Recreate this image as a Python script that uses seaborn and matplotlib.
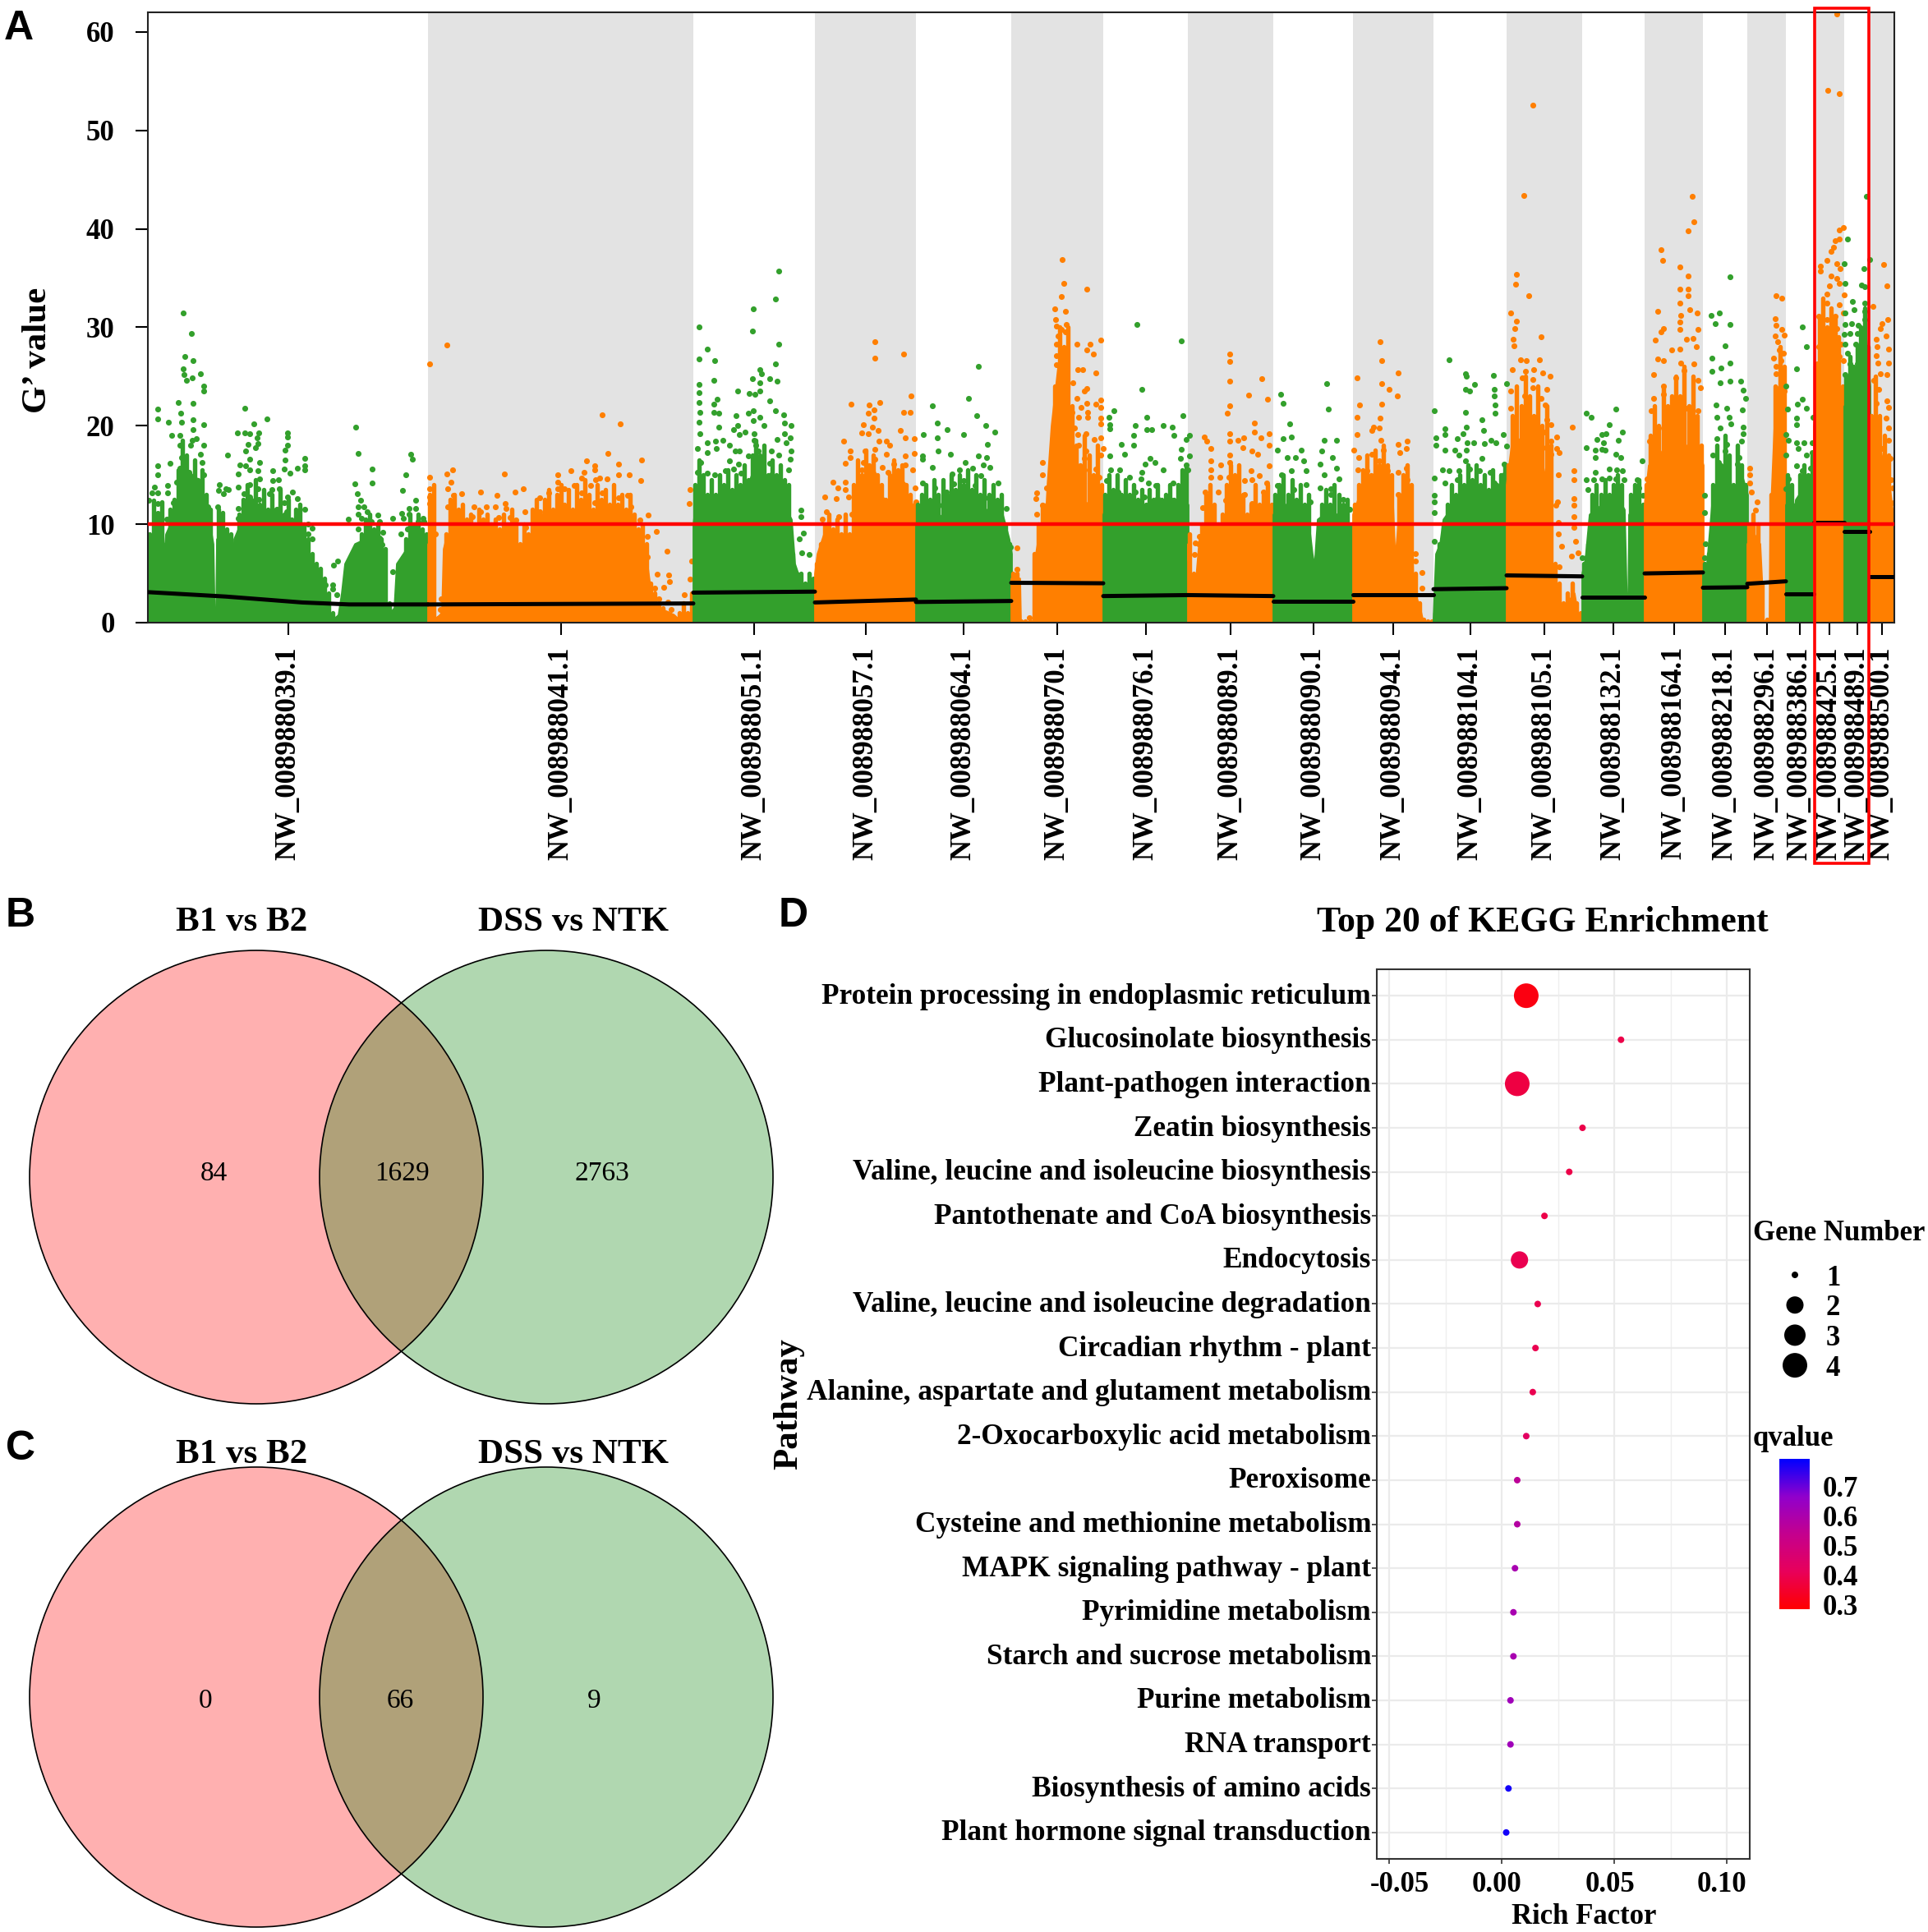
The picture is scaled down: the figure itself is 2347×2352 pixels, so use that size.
import numpy as np
import pandas as pd
import matplotlib
matplotlib.use("Agg")
import matplotlib.pyplot as plt
import seaborn as sns
from matplotlib.cm import ScalarMappable
from matplotlib.colors import LinearSegmentedColormap, Normalize
from matplotlib.patches import Ellipse, Rectangle
from matplotlib.transforms import ScaledTranslation

# ---- panel A data ----
scaffolds = ["NW_008988039.1", "NW_008988041.1", "NW_008988051.1", "NW_008988057.1", "NW_008988064.1",
             "NW_008988070.1", "NW_008988076.1", "NW_008988089.1", "NW_008988090.1", "NW_008988094.1",
             "NW_008988104.1", "NW_008988105.1", "NW_008988132.1", "NW_008988164.1", "NW_008988218.1",
             "NW_008988296.1", "NW_008988386.1", "NW_008988425.1", "NW_008988489.1", "NW_008988500.1"]
scaffold_len = [341, 323, 148, 123, 116, 112, 103, 104, 97, 98, 89, 92, 76, 71, 54, 47, 34, 37, 31, 30]
smooth_start = [3.1, 1.85, 3.05, 2.05, 2.1, 4.05, 2.7, 2.8, 2.2, 2.85, 3.4, 4.8, 2.55, 5.0, 3.55, 3.95, 2.9, 10.2, 9.3, 4.7]
smooth_end = [1.85, 1.95, 3.15, 2.35, 2.2, 4.0, 2.8, 2.7, 2.2, 2.85, 3.5, 4.7, 2.55, 5.1, 3.6, 4.2, 2.9, 10.2, 9.3, 4.7]
# first scaffold's smoothed line bends, so it gets its own points
smooth_039_x = [0, 95, 188, 245, 341]
smooth_039_y = [3.1, 2.65, 2.05, 1.85, 1.85]

# dense lower part of each scaffold: upper edge
body_x_039 = [0, 10, 19, 22, 30, 40, 55, 65, 75, 79, 80.5, 83, 84, 98, 100, 103, 105, 115, 140, 160, 172, 178, 188, 200, 205, 210, 222, 232, 236, 240, 252, 265, 280, 285, 289, 295, 300, 303, 315, 330, 341]
body_y_039 = [7, 9, 6, 9, 10.5, 12.5, 12.5, 12, 10, 8, 0.8, 0.8, 8.5, 8.8, 8, 0.8, 8.5, 10.5, 10.5, 10, 8.5, 5.5, 4.5, 2.8, 0.8, 0.3, 0, 0.8, 3, 6, 8, 8.5, 6.5, 5, 1.5, 1, 1.5, 6, 7.5, 7.5, 7]
body_x_041 = [341, 348, 349, 358, 360, 363, 375, 385, 410, 415, 420, 440, 458, 463, 467, 475, 500, 530, 560, 590, 605, 612, 618, 622, 640, 650, 660, 664]
body_y_041 = [8, 8, 0.3, 1, 7.5, 8.5, 8, 7, 7.5, 6.5, 7, 7.5, 6.8, 6, 6.5, 8.5, 8, 9, 8.5, 8, 7.5, 3, 2, 1.5, 0.8, 0, 0.5, 1]
body_x_051 = [664, 668, 672, 690, 700, 720, 735, 745, 755, 770, 783, 787, 795, 805, 812]
body_y_051 = [10, 13, 12, 11, 12, 11.5, 15, 15, 11, 12.5, 10.5, 6, 4, 4, 3.5]
body_x_057 = [812, 815, 825, 840, 850, 855, 860, 870, 885, 900, 910, 920, 930, 935]
body_y_057 = [5, 7, 9.5, 8, 8.5, 7, 11, 13, 14, 12, 11, 13.5, 10, 10]
body_x_064 = [935, 945, 960, 975, 1000, 1020, 1040, 1048, 1051]
body_y_064 = [10, 11, 10.5, 11.5, 11.5, 11.5, 11, 8.5, 7]
body_x_070 = [1051, 1061, 1062, 1078, 1079, 1085, 1092, 1095, 1100, 1108, 1115, 1120, 1130, 1145, 1155, 1163]
body_y_070 = [4.5, 4.5, 0.1, 0.1, 6, 9, 9, 14, 20, 26, 26, 16, 13, 12, 13, 12]
body_x_076 = [1163, 1170, 1190, 1210, 1235, 1255, 1266]
body_y_076 = [11, 12.5, 11, 10.5, 10.5, 11, 12]
body_x_089 = [1266, 1268, 1275, 1280, 1290, 1300, 1320, 1340, 1360, 1370]
body_y_089 = [8, 4, 3.5, 8.5, 11, 8, 12, 9, 11, 9]
body_x_090 = [1370, 1385, 1410, 1417, 1420, 1424, 1440, 1460, 1467]
body_y_090 = [11, 12, 12, 7, 5.5, 10.5, 11.5, 10, 8.5]
body_x_094 = [1467, 1475, 1490, 1505, 1515, 1518, 1522, 1537, 1540, 1548, 1552, 1565]
body_y_094 = [11, 13, 14, 15, 12, 6, 10, 12, 3.5, 1.5, 0.1, 0.1]
body_x_104 = [1565, 1568, 1573, 1577, 1590, 1605, 1625, 1645, 1654]
body_y_104 = [0.5, 7, 8, 10.5, 12, 13, 11.5, 12, 13]
body_x_105 = [1654, 1660, 1675, 1685, 1695, 1705, 1708, 1714, 1722, 1728, 1736, 1740, 1746]
body_y_105 = [14, 18, 19, 17, 17, 13, 5, 3, 1, 2, 3, 1, 0.5]
body_x_132 = [1746, 1750, 1755, 1770, 1790, 1797, 1800, 1802, 1803, 1815, 1822]
body_y_132 = [5, 6.5, 11, 12, 12.5, 11.5, 1, 1, 11, 12, 11]
body_x_164 = [1822, 1827, 1840, 1855, 1870, 1885, 1893]
body_y_164 = [12, 16, 17, 19, 18, 18, 16]
body_x_218 = [1893, 1898, 1905, 1915, 1925, 1930, 1940, 1947]
body_y_218 = [5, 6, 13, 15, 15, 12, 15, 13]
body_x_296 = [1947, 1955, 1962, 1965, 1966, 1974, 1975, 1980, 1985, 1992, 1994]
body_y_296 = [8, 9, 8, 3, 0.2, 0.2, 10, 20, 24, 22, 10]
body_x_386 = [1994, 1998, 2003, 2006, 2018, 2028]
body_y_386 = [12, 12, 10, 12.5, 14, 15]
body_x_425 = [2028, 2035, 2045, 2055, 2063, 2065]
body_y_425 = [20, 25, 27, 26, 20, 17]
body_x_489 = [2065, 2075, 2085, 2090, 2096]
body_y_489 = [22, 23, 26, 30, 24]
body_x_500 = [2096, 2103, 2110, 2118, 2124, 2126]
body_y_500 = [16, 20, 17, 15, 11, 7]

# top of the packed columns, one value per column across the scaffold
cloud_039 = [9, 12.4, 11, 12.3, 8, 11.5, 12.5, 15.5, 18.5, 17, 15, 16.5, 14.5, 15.5, 13, 11.5, 1, 11.5, 11.2, 9.5, 9, 1, 11, 12.5, 14, 12.5, 14.5, 12, 13.5, 11.5, 13, 11.5, 13.5, 11, 12.5, 10.5, 11.5, 12, 10, 8.5, 7, 6, 5.5, 4.5, 3, 1, 0.5, 1, 1, 2, 5, 7.5, 9, 10.5, 11, 9.5, 10, 8.5, 7.5, 2, 1, 2, 6, 8.5, 11, 10, 11, 9.5, 9]
cloud_041 = [13, 14, 0.5, 1, 9, 12.5, 13, 11.5, 12, 10.5, 11, 10, 11.5, 10.5, 11, 10, 10.5, 9.5, 11, 10, 11.5, 10, 8, 10, 9, 11.5, 12.5, 11, 12.5, 13.5, 11.5, 13, 14, 12, 13.5, 11.5, 14, 12.5, 14.5, 13, 11.5, 14, 12.5, 13.5, 12, 14, 12, 13, 11.5, 13, 11, 9.5, 10, 8, 4, 3, 2, 1.5, 1, 0.5, 0.3, 1, 2, 1, 3]
cloud_051 = [14, 16.5, 15, 13, 14.5, 13, 15, 14, 15.5, 13.5, 15, 14, 16, 14.5, 17, 18.5, 17, 18, 15, 16.5, 15, 16, 14.5, 14, 7, 5, 5, 4, 5, 4.5]
cloud_057 = [6, 8, 10, 11, 9.5, 10.5, 9, 11, 9, 14, 16.5, 15, 17.5, 16, 17, 15, 14, 12.5, 15, 16.5, 15.5, 16, 14, 13, 12]
cloud_064 = [12, 13, 14, 12.5, 14.5, 13, 14.5, 13, 15, 13.5, 15, 14, 15.5, 13.5, 15, 13, 14.5, 13, 14, 12.5, 13, 10, 8]
cloud_070 = [5, 5, 0.2, 0.2, 0.2, 7, 10, 12, 12, 15, 24, 30, 28, 30, 22, 18, 16, 19, 17, 15, 18, 14]
cloud_076 = [13, 15, 13.5, 15, 13, 14.5, 13, 14, 12.5, 13.5, 12, 13.5, 12.5, 14, 12.5, 13, 14, 12.5, 14, 15.5, 16]
cloud_089 = [9, 5, 4, 10, 13, 14, 12, 10, 11, 14, 16, 15, 16, 13, 11, 12, 14, 12, 13, 14, 12]
cloud_090 = [13, 14, 15, 13, 14.5, 12.5, 14, 12, 13, 6, 5, 12, 13.5, 12, 14, 13, 12, 12.5, 10]
cloud_094 = [12, 14, 15.5, 17, 15, 17.5, 16, 18, 16, 15, 7, 13, 15, 16, 14, 5, 2, 0.3, 0.2, 0.2]
cloud_104 = [1, 8, 10, 12, 14, 13, 15, 14, 16, 14.5, 16, 14, 15, 13.5, 15.5, 14, 15, 16]
cloud_105 = [16, 21, 24, 22, 25, 23, 21, 24, 20, 22, 18, 6, 4, 2, 3, 4, 2, 1]
cloud_132 = [6, 8, 13, 14, 13, 14.5, 13, 14, 15, 14, 1.5, 13, 14, 14.5, 12]
cloud_164 = [14, 19, 22, 20, 24, 22, 23, 25, 23, 26, 22, 25, 21, 18]
cloud_218 = [6, 7, 14, 18, 16, 19, 17, 14, 18, 16, 14]
cloud_296 = [10, 11, 10, 4, 0.3, 13, 24, 28, 26]
cloud_386 = [15, 14, 12, 15, 16, 15, 17]
cloud_425 = [26, 31, 33, 30, 32, 31, 29, 24]
cloud_489 = [25, 27, 26, 28, 30, 32, 28]
cloud_500 = [21, 25, 21, 19, 17, 10]

# sparse single SNPs above the dense part
dots_x_039 = [43, 53, 45, 55, 43, 64, 54, 44, 47, 68, 68, 12, 12, 37, 55, 40, 25, 41, 55, 68, 29, 39, 55, 54, 59, 39, 68, 52, 64, 41, 27, 12, 66, 12, 39, 50, 68, 35, 57, 8, 24, 5, 12, 24, 1, 12, 31, 41, 70, 73, 12, 10, 23, 85, 87, 86, 92, 95, 98, 87, 97, 118, 129, 145, 109, 118, 124, 135, 133, 170, 170, 122, 134, 170, 119, 131, 167, 124, 167, 191, 136, 112, 119, 124, 134, 152, 182, 191, 191, 166, 173, 110, 136, 152, 159, 124, 110, 134, 160, 151, 176, 117, 124, 135, 170, 182, 148, 166, 122, 110, 135, 157, 147, 169, 117, 191, 110, 137, 157, 195, 200, 195, 189, 200, 189, 193, 198, 204, 200, 207, 216, 225, 225, 230, 226, 231, 253, 256, 273, 252, 273, 255, 259, 256, 263, 267, 256, 244, 260, 280, 272, 282, 298, 256, 271, 282, 286, 285, 282, 287, 298, 320, 322, 314, 310, 326, 318, 326, 309, 318, 335, 311, 329, 336, 308, 316, 336, 329]
dots_y_039 = [31.5, 29.4, 27, 26.6, 25.8, 25.3, 24.9, 25.2, 24.6, 24, 23.5, 21.7, 20.7, 22.4, 22.3, 21.3, 20.4, 20.4, 20.6, 20.1, 19, 19, 19.6, 18.5, 18.7, 18, 18, 18, 17.1, 16.8, 16.2, 15.9, 16.3, 15, 15.7, 15.3, 15, 14.3, 14.6, 13.8, 13.9, 13.2, 13.2, 13.2, 12.4, 12.1, 12.2, 12.9, 12.7, 11.8, 11.1, 10.6, 10.5, 11.8, 14, 13.4, 13.1, 13.6, 13.5, 10.8, 17, 21.8, 20.2, 20.7, 19.3, 19.3, 19.2, 19.3, 18.8, 19.3, 18.9, 18.1, 18.2, 18, 17.4, 17.8, 17.5, 16.6, 16.5, 16.7, 16.3, 16, 15.9, 15.5, 15.4, 15.4, 15.7, 15.9, 15.5, 15.6, 15.2, 15.1, 14.6, 14.4, 14.5, 14, 13.8, 13.6, 13.6, 13.5, 13.3, 13.1, 12.8, 12.5, 12.8, 12.6, 13.1, 12.2, 12.1, 11.6, 11.8, 11.5, 11.3, 11.3, 11, 11.5, 10.6, 10.6, 10.6, 10, 9.6, 9, 8.5, 8.5, 6.8, 6.6, 5.9, 4.8, 4.3, 2.5, 3.8, 3.8, 3.4, 2.8, 5.8, 6.3, 19.9, 17.2, 15.6, 14.1, 14.2, 13.1, 12.4, 11.8, 11.8, 11.3, 11, 10.5, 10.6, 10.9, 10.3, 10.3, 10.6, 9.5, 9.3, 8.6, 9.2, 7.9, 7.4, 6.6, 5.2, 17.1, 16.6, 15, 13.4, 12.4, 11.6, 11.6, 11.1, 11, 10.6, 10.6, 10.3, 10.3, 9, 9.5, 8.5, 8.9]
dots_x_041 = [343, 364, 553, 575, 343, 364, 371, 434, 369, 560, 534, 544, 544, 573, 601, 515, 531, 499, 573, 586, 600, 550, 559, 499, 528, 545, 539, 519, 499, 507, 457, 447, 405, 343, 365, 372, 382, 425, 488, 477, 528, 553, 584, 573, 343, 343, 365, 372, 435, 499, 544, 559, 588, 397, 412, 423, 381, 405, 436, 459, 477, 488, 512, 528, 539, 575, 609, 395, 427, 441, 499, 530, 553, 584, 599, 369, 448, 619, 632, 608, 608, 620, 634, 617, 628, 635, 660, 659, 662, 660, 653, 633, 622, 637, 357, 350, 356, 385, 395, 420, 440, 460, 480, 500, 520, 540, 560, 580, 595]
dots_y_041 = [26.3, 28.2, 21.1, 20.2, 14.8, 15.1, 15.5, 15.1, 14.3, 17.2, 16.4, 15.9, 15.5, 16.1, 16.5, 15.4, 15.3, 15, 15, 15, 14.4, 14.7, 14.6, 14.3, 14.7, 14.5, 13.9, 13.9, 13.6, 13.6, 13.6, 13.3, 13.3, 13.6, 13.6, 12.9, 13.1, 12.9, 13.2, 12.7, 13.2, 13.2, 12.9, 12.7, 12.8, 12.1, 11.8, 12.1, 12.1, 12.1, 12.2, 11.8, 11.8, 11.8, 11.8, 11.8, 11.3, 11.3, 11.6, 11.3, 11.3, 11.1, 11.4, 11.4, 11.3, 11.3, 10.9, 10.8, 10.7, 10.7, 10.6, 10.6, 11, 10.7, 10.4, 10.5, 10.4, 9.3, 7.3, 8.8, 6.7, 4.9, 4.8, 3.5, 3.6, 4.2, 13.5, 12.1, 6.3, 4.4, 2.8, 2.1, 2.4, 1.3, 2.4, 9, 1.3, 9.5, 9.2, 9.6, 9.3, 9.7, 9.5, 9.8, 9.4, 9.7, 9.5, 9.6, 9.3]
dots_x_051 = [671, 681, 671, 690, 689, 768, 764, 737, 736, 768, 764, 745, 747, 736, 757, 766, 745, 718, 732, 739, 745, 671, 671, 671, 672, 757, 689, 693, 689, 695, 716, 731, 737, 745, 764, 774, 671, 695, 737, 750, 775, 783, 718, 713, 727, 672, 720, 738, 775, 782, 766, 738, 777, 681, 691, 700, 669, 692, 708, 740, 783, 759, 681, 715, 720, 743, 768, 731, 708, 673, 719, 782, 757, 703, 713, 780, 669, 681, 690, 722, 759, 795, 795, 798, 793, 796, 805]
dots_y_051 = [30, 27.8, 26.8, 26.6, 24.6, 35.7, 32.9, 31.9, 29.6, 28.3, 26.3, 25.7, 25.3, 24.8, 24.8, 24.5, 24.4, 23.5, 23.3, 23.2, 23.5, 24.2, 23.4, 22.4, 21.4, 22.5, 22.2, 22.7, 21.4, 21.3, 21, 21.3, 21.5, 20.9, 21.5, 21.1, 20.4, 19.9, 20.5, 20, 20.3, 20, 20, 19.6, 19.4, 19.2, 19.1, 19.2, 19.2, 18.8, 18.6, 18.5, 18.3, 18.3, 18.4, 18.5, 17.7, 17.7, 18, 18, 17.4, 17.4, 17.3, 17.4, 17.4, 17.4, 17, 16.9, 16.4, 16.3, 16.1, 16.6, 16.2, 15.4, 15.6, 15.5, 15.3, 15.2, 15, 15.2, 15, 11.4, 10.8, 9.1, 8.5, 7.1, 6.9]
dots_x_057 = [885, 885, 920, 929, 856, 878, 891, 884, 877, 920, 928, 884, 871, 882, 877, 869, 889, 916, 922, 933, 847, 890, 899, 903, 873, 885, 899, 855, 855, 849, 933, 922, 871, 885, 908, 931, 922, 894, 869, 883, 901, 834, 849, 840, 849, 934, 824, 838, 863, 853, 919, 912, 935, 826, 821, 841, 857]
dots_y_057 = [28.5, 26.9, 27.3, 23, 22.2, 22.1, 22.4, 21.6, 21.3, 21.4, 21.4, 20.8, 20.1, 19.9, 19.2, 19.3, 19.5, 19.5, 18.8, 18.7, 18.4, 18.4, 18.4, 18, 17.4, 17.6, 17.1, 17.4, 16.8, 16.2, 17.2, 16.9, 16.3, 16.6, 16.1, 15.5, 16, 15.8, 15.5, 15.2, 15.3, 14.3, 14.3, 13.7, 13.5, 13.7, 12.8, 12.6, 13.3, 12.8, 14.1, 13.3, 12.3, 11.3, 10.5, 10.8, 11]
dots_x_064 = [1011, 999, 955, 1009, 961, 1020, 973, 1031, 944, 961, 993, 1022, 962, 977, 943, 943, 1011, 1021, 955, 995, 1004, 1017, 1025, 979, 988, 1014, 943, 1035, 993, 958, 981, 1007, 972, 1000, 1023, 958, 1027, 940, 1045, 963, 991, 1014, 1050]
dots_y_064 = [26, 22.8, 22, 21, 20.3, 20, 19.6, 19.4, 19.1, 18.8, 19.1, 18.1, 17.4, 17.1, 16.9, 16.6, 16.9, 16.8, 15.8, 16.3, 15.7, 16, 15.8, 15.1, 15.5, 14.9, 14.2, 14.2, 14.4, 13.7, 14.1, 13.9, 13.3, 13.3, 12.7, 12.6, 12.1, 11.7, 11.6, 11.9, 12.1, 11.9, 7.7]
dots_x_070 = [1113, 1115, 1143, 1112, 1104, 1117, 1105, 1106, 1118, 1112, 1117, 1108, 1160, 1131, 1147, 1106, 1118, 1143, 1151, 1106, 1116, 1106, 1132, 1138, 1154, 1126, 1143, 1140, 1160, 1154, 1131, 1136, 1143, 1160, 1125, 1144, 1133, 1144, 1160, 1128, 1160, 1142, 1132, 1152, 1160, 1133, 1163, 1142, 1126, 1160, 1140, 1089, 1131, 1154, 1089, 1140, 1158, 1082, 1094, 1147, 1081, 1132, 1089, 1082, 1058, 1058, 1073]
dots_y_070 = [36.9, 34.5, 33.9, 33.1, 31.9, 31.6, 30.8, 30.1, 30.3, 29.8, 29.5, 29.1, 28.7, 28.3, 28.3, 28.3, 27.8, 27.7, 27.3, 27.1, 26.6, 26.2, 25.7, 25.7, 25.4, 24.4, 23.8, 23.5, 22.6, 22.2, 22.8, 21.9, 22.3, 21.9, 21.4, 21.4, 20.9, 20.9, 20.8, 19.8, 20.2, 19.2, 19.1, 18.6, 18.8, 18, 17.7, 17.4, 17.1, 17, 16.7, 16.3, 15.9, 15.6, 15, 15.5, 14.8, 13.2, 13.7, 14.2, 12.6, 14.9, 11.9, 11, 7.6, 5.4, 0.5]
dots_x_076 = [1204, 1258, 1210, 1176, 1170, 1216, 1260, 1171, 1171, 1202, 1236, 1247, 1200, 1216, 1222, 1249, 1268, 1264, 1185, 1200, 1258, 1171, 1189, 1220, 1257, 1268, 1214, 1226, 1264, 1172, 1183, 1210, 1236, 1266, 1195, 1209, 1218, 1227, 1167, 1248, 1181, 1261, 1202, 1213, 1229, 1248, 1172, 1195, 1238, 1261]
dots_y_076 = [30.3, 28.6, 23.7, 21.5, 20.9, 20.9, 21, 20.1, 19.7, 20, 20, 19.9, 19, 19.6, 19.6, 19, 19, 18.6, 18.1, 18, 17.6, 16.9, 17.1, 16.7, 16.7, 16.9, 16.1, 16.3, 16, 15.5, 15.5, 15.3, 15.5, 15.5, 14.8, 14.6, 14.2, 13.9, 14.4, 14.2, 13.3, 13.5, 13.3, 12.8, 12.6, 12.4, 12.1, 11.6, 11.6, 11.3]
dots_x_089 = [1317, 1317, 1317, 1356, 1340, 1363, 1317, 1314, 1347, 1317, 1347, 1286, 1365, 1334, 1327, 1317, 1355, 1289, 1294, 1333, 1344, 1351, 1365, 1317, 1294, 1317, 1306, 1294, 1343, 1294, 1305, 1316, 1344, 1353, 1365, 1362, 1323, 1335, 1287, 1303, 1358, 1335, 1284, 1312, 1344, 1275, 1274, 1280, 1279, 1273, 1275]
dots_y_089 = [27.3, 26.5, 24.5, 24.8, 23.1, 22.7, 22, 21.3, 20.3, 19.2, 19.4, 18.9, 19.2, 18.8, 18.5, 18.4, 18.8, 18.4, 17.7, 17.8, 17.4, 17.1, 18, 17, 16.4, 16.3, 16, 15.5, 15.4, 14.8, 14.8, 14.8, 14.5, 14.9, 15.9, 14.2, 14.1, 14.4, 13.3, 13.3, 13.3, 13, 11.7, 12.4, 12.1, 8.1, 6.9, 8.8, 8, 4.1, 3.3]
dots_x_090 = [1379, 1382, 1435, 1437, 1390, 1382, 1392, 1432, 1447, 1404, 1375, 1429, 1442, 1397, 1387, 1407, 1427, 1447, 1392, 1410, 1450, 1432, 1380, 1410, 1375, 1427, 1440, 1455, 1395, 1415, 1440, 1463]
dots_y_090 = [23.2, 22.3, 24.3, 21.7, 20.2, 18.7, 18.9, 18.5, 18.5, 17.5, 17.5, 17.4, 16.8, 16.8, 16.8, 16.4, 16.1, 15.7, 15.4, 15.4, 14.6, 15, 15, 14, 13.9, 13.7, 13.6, 12.5, 13.5, 12.3, 13, 11.5]
dots_x_094 = [1500, 1502, 1472, 1522, 1502, 1511, 1521, 1475, 1502, 1472, 1500, 1492, 1490, 1499, 1472, 1501, 1533, 1522, 1532, 1468, 1504, 1524, 1490, 1474, 1499, 1532, 1473, 1484, 1522, 1509, 1494, 1533, 1529, 1522, 1482, 1543, 1543, 1551, 1542, 1551]
dots_y_094 = [28.5, 26.6, 24.9, 25.4, 24.3, 23.7, 23, 22.1, 22.2, 20.9, 20.8, 19.9, 19.5, 19.8, 19.1, 18.5, 18.4, 18.1, 17.7, 17.5, 17.5, 17.3, 17.1, 16.8, 16.4, 15.7, 15.5, 15.4, 15.3, 15.4, 15, 14.5, 13.6, 13, 13.7, 7, 6.3, 5.1, 3.9, 3.5]
dots_x_104 = [1584, 1604, 1605, 1638, 1615, 1654, 1604, 1609, 1639, 1639, 1640, 1640, 1566, 1604, 1624, 1605, 1579, 1626, 1579, 1568, 1601, 1650, 1568, 1594, 1606, 1614, 1627, 1635, 1641, 1654, 1579, 1591, 1605, 1596, 1624, 1651, 1604, 1576, 1584, 1596, 1609, 1621, 1634, 1566, 1651, 1579, 1566, 1566, 1566, 1566, 1594, 1639]
dots_y_104 = [26.7, 25.3, 25, 25.1, 24.2, 24.3, 23.7, 23.5, 23.7, 23, 22.1, 21.3, 21.5, 21.4, 20.6, 19.9, 19.7, 19.5, 19.1, 18.8, 19.2, 19.1, 18, 18.7, 18.3, 18.3, 18.2, 18.5, 18.3, 17.9, 17.5, 17.5, 17.5, 17, 16.7, 16.1, 16.4, 15.5, 15.4, 15.4, 15.6, 15.4, 15.3, 14.7, 15, 14.2, 12.9, 12.3, 11.2, 8.3, 14.5, 14.2]
dots_x_105 = [1686, 1675, 1666, 1665, 1681, 1659, 1666, 1664, 1696, 1662, 1663, 1671, 1678, 1694, 1661, 1677, 1687, 1698, 1707, 1673, 1686, 1703, 1686, 1659, 1676, 1696, 1701, 1659, 1678, 1688, 1703, 1734, 1708, 1678, 1701, 1715, 1708, 1688, 1715, 1718, 1698, 1708, 1736, 1736, 1717, 1716, 1714, 1736, 1736, 1736, 1717, 1717, 1736, 1738, 1721, 1741, 1733, 1718, 1736]
dots_y_105 = [52.6, 43.4, 35.4, 34.4, 33.2, 31.5, 30.6, 29.9, 29, 28.8, 28.1, 26.7, 26.6, 26.7, 25.7, 25.5, 25.7, 25.4, 25, 24.9, 24.7, 23.7, 23.9, 23.5, 23, 22.8, 22.1, 21.8, 21.5, 20.9, 20.6, 19.9, 20.1, 19.8, 19.4, 18.9, 18.4, 18.7, 17.7, 17.3, 17.8, 17.1, 15.4, 14.5, 15, 12.3, 11.9, 12.6, 11.9, 10.8, 10.2, 9, 9.7, 8.3, 7.8, 7.1, 6.8, 5.7, 1.9]
dots_x_132 = [1751, 1757, 1787, 1779, 1795, 1770, 1775, 1764, 1790, 1751, 1772, 1762, 1770, 1774, 1762, 1787, 1793, 1819, 1779, 1788, 1795, 1762, 1751, 1760, 1770, 1779, 1787, 1797, 1813, 1753, 1815, 1820, 1807, 1751, 1746]
dots_y_132 = [21.3, 20.9, 21.7, 20.1, 19.4, 19.1, 19.2, 18.6, 18.5, 17.8, 18.3, 17.5, 17.6, 17.5, 16.8, 17.1, 16.8, 16.4, 15.6, 15.5, 15.4, 15.3, 14.5, 14.5, 14.6, 14.7, 14.6, 14.5, 14.5, 13.5, 13.7, 12.9, 12.5, 6.6, 6.6]
dots_x_164 = [1880, 1882, 1875, 1842, 1844, 1865, 1875, 1838, 1865, 1875, 1875, 1865, 1877, 1886, 1866, 1865, 1845, 1842, 1887, 1865, 1835, 1873, 1881, 1885, 1855, 1865, 1838, 1845, 1866, 1882, 1833, 1860, 1870, 1887, 1845, 1890, 1833, 1845, 1858, 1830, 1887, 1872, 1852, 1828, 1825, 1845, 1882]
dots_y_164 = [43.3, 40.7, 39.8, 37.9, 36.8, 36.1, 35.2, 31.6, 33.9, 33.9, 33.2, 32.5, 31.8, 31.5, 31.2, 30.5, 29.9, 29.5, 29.8, 29.8, 28.7, 28.8, 28.9, 28, 27.7, 27.8, 26.8, 26.6, 26.4, 26.3, 25.2, 24.9, 25.6, 24.6, 24, 23.9, 22.8, 23.2, 22.3, 21.5, 21.5, 21.8, 20.6, 18.4, 14.6, 19.8, 20.1]
dots_x_218 = [1926, 1913, 1903, 1908, 1926, 1920, 1904, 1926, 1915, 1904, 1914, 1926, 1939, 1942, 1945, 1909, 1922, 1941, 1910, 1925, 1942, 1914, 1927, 1942, 1910, 1940, 1922, 1905, 1920, 1937, 1912, 1895, 1895, 1896, 1895, 1935]
dots_y_218 = [35.1, 31.5, 31.2, 30.4, 30.3, 28.1, 26.9, 26.4, 25.9, 25.5, 24.4, 24.5, 24.5, 23.6, 22.8, 22.1, 21.8, 21.6, 20.9, 20.9, 19.9, 19.8, 20.2, 19.2, 18.7, 18.4, 18.1, 17, 17.4, 16.8, 16.3, 12.9, 11.2, 8, 6.6, 16.1]
dots_x_296 = [1982, 1989, 1981, 1982, 1989, 1981, 1992, 1984, 1986, 1979, 1991, 1982, 1988, 1982, 1989, 1992, 1950, 1950, 1950, 1959, 1952, 1957]
dots_y_296 = [33.2, 33, 30.9, 30.2, 29.8, 29.1, 29.2, 28.5, 27.7, 26.9, 27.4, 26, 26.6, 25.3, 24.5, 23.5, 15.7, 15, 14.2, 12.3, 13.3, 11.4]
dots_x_386 = [2014, 2019, 2007, 1994, 2014, 2008, 2019, 1996, 2007, 2027, 2007, 1994, 1997, 2007, 2016, 2026, 2009, 1994, 2019, 2026, 2007, 2024, 1997, 2014, 1994]
dots_y_386 = [30, 28, 25.8, 24, 22.7, 22.2, 21.8, 21.7, 20.8, 20.9, 20.1, 19.1, 18.5, 18.3, 18.3, 18.3, 17.7, 17, 17, 17.3, 15.9, 15.7, 14.6, 15.4, 13.6]
dots_x_425 = [2056, 2045, 2059, 2064, 2059, 2059, 2054, 2052, 2049, 2044, 2036, 2036, 2056, 2060, 2049, 2056, 2047, 2059, 2044, 2065, 2044, 2059, 2034, 2044, 2054, 2064, 2037, 2049, 2056, 2036, 2047, 2061, 2034, 2054, 2042, 2059, 2032, 2064]
dots_y_425 = [61.8, 54.1, 53.7, 40.1, 39.9, 39, 38.8, 38.1, 37.7, 36.8, 36.2, 35.7, 36.5, 36, 35.2, 35, 34.2, 34.5, 33.4, 33.3, 32.5, 32.3, 31.1, 30.8, 31.1, 31.5, 29.9, 29.7, 29.9, 28.7, 28.8, 28.3, 28, 27.8, 27.1, 27, 26.3, 26.6]
dots_x_489 = [2092, 2069, 2096, 2089, 2065, 2066, 2086, 2090, 2075, 2090, 2066, 2077, 2090, 2066, 2074, 2082, 2090, 2072, 2065, 2081, 2089, 2066, 2079, 2087, 2069, 2091, 2072, 2081, 2066, 2079, 2091, 2069, 2081]
dots_y_489 = [43.3, 39, 36.9, 36, 36.5, 34.5, 34.3, 34.1, 32.6, 32.5, 31.5, 31.8, 31.6, 30.3, 30.4, 30.2, 30.8, 29.4, 29.3, 29.4, 29.7, 28.3, 28.3, 28.5, 27.4, 27.8, 26.3, 26.3, 25.2, 25.4, 26.3, 24.5, 24.6]
dots_x_500 = [2113, 2117, 2100, 2118, 2111, 2109, 2116, 2104, 2119, 2105, 2104, 2119, 2106, 2109, 2117, 2101, 2107, 2104, 2117, 2119, 2104, 2116, 2119, 2101, 2101, 2119, 2111, 2121, 2124, 2122, 2125]
dots_y_500 = [36.4, 34.2, 32.1, 30.8, 30.4, 29.9, 29.1, 28.8, 27.8, 28, 27.1, 26.4, 26.4, 25.3, 25.2, 24.6, 23.7, 22.3, 22.5, 21.9, 20.6, 20.8, 19.8, 19.8, 18.4, 18.5, 17.7, 16.7, 13.7, 14.5, 12.2]

bodies_x = [body_x_039, body_x_041, body_x_051, body_x_057, body_x_064, body_x_070, body_x_076, body_x_089, body_x_090, body_x_094,
            body_x_104, body_x_105, body_x_132, body_x_164, body_x_218, body_x_296, body_x_386, body_x_425, body_x_489, body_x_500]
bodies_y = [body_y_039, body_y_041, body_y_051, body_y_057, body_y_064, body_y_070, body_y_076, body_y_089, body_y_090, body_y_094,
            body_y_104, body_y_105, body_y_132, body_y_164, body_y_218, body_y_296, body_y_386, body_y_425, body_y_489, body_y_500]
clouds = [cloud_039, cloud_041, cloud_051, cloud_057, cloud_064, cloud_070, cloud_076, cloud_089, cloud_090, cloud_094,
          cloud_104, cloud_105, cloud_132, cloud_164, cloud_218, cloud_296, cloud_386, cloud_425, cloud_489, cloud_500]
dots_x = [dots_x_039, dots_x_041, dots_x_051, dots_x_057, dots_x_064, dots_x_070, dots_x_076, dots_x_089, dots_x_090, dots_x_094,
          dots_x_104, dots_x_105, dots_x_132, dots_x_164, dots_x_218, dots_x_296, dots_x_386, dots_x_425, dots_x_489, dots_x_500]
dots_y = [dots_y_039, dots_y_041, dots_y_051, dots_y_057, dots_y_064, dots_y_070, dots_y_076, dots_y_089, dots_y_090, dots_y_094,
          dots_y_104, dots_y_105, dots_y_132, dots_y_164, dots_y_218, dots_y_296, dots_y_386, dots_y_425, dots_y_489, dots_y_500]

# ---- venn data ----
venn_b_counts = [84, 1629, 2763]
venn_c_counts = [0, 66, 9]
venn_titles = ["B1 vs B2", "DSS vs NTK"]

# ---- panel D data ----
pathways = ["Protein processing in endoplasmic reticulum", "Glucosinolate biosynthesis", "Plant-pathogen interaction",
            "Zeatin biosynthesis", "Valine, leucine and isoleucine biosynthesis", "Pantothenate and CoA biosynthesis",
            "Endocytosis", "Valine, leucine and isoleucine degradation", "Circadian rhythm - plant",
            "Alanine, aspartate and glutament metabolism", "2-Oxocarboxylic acid metabolism", "Peroxisome",
            "Cysteine and methionine metabolism", "MAPK signaling pathway - plant", "Pyrimidine metabolism",
            "Starch and sucrose metabolism", "Purine metabolism", "RNA transport", "Biosynthesis of amino acids",
            "Plant hormone signal transduction"]
rich_factor = [0.0109, 0.053, 0.0069, 0.0359, 0.030, 0.019, 0.0079, 0.016, 0.015, 0.0138,
               0.0109, 0.0069, 0.0069, 0.0059, 0.0052, 0.0052, 0.0039, 0.0039, 0.003, 0.002]
qvalue = [0.30, 0.38, 0.37, 0.38, 0.38, 0.38, 0.39, 0.39, 0.39, 0.39,
          0.42, 0.55, 0.57, 0.60, 0.60, 0.60, 0.62, 0.62, 0.77, 0.77]
gene_number = [4, 1, 4, 1, 1, 1, 2, 1, 1, 1, 1, 1, 1, 1, 1, 1, 1, 1, 1, 1]
legend_genes = [1, 2, 3, 4]
size_map = {1: 33, 2: 229, 3: 350, 4: 466}

W, H = 2347, 2352
GREEN, ORANGE = "#33A02C", "#FF7F00"
BAND = "#E3E3E3"
SERIF = ["Liberation Serif", "DejaVu Serif"]

sns.set_theme(style="white")
plt.rcParams["font.family"] = SERIF
plt.rcParams["font.weight"] = "bold"
plt.rcParams["axes.labelweight"] = "bold"
plt.rcParams["text.color"] = "black"
plt.rcParams["xtick.color"] = "black"
plt.rcParams["ytick.color"] = "black"

fig = plt.figure(figsize=(W / 100, H / 100), dpi=100, facecolor="white")


def px_axes(left, top, right, bottom, **kw):
    # axes placed by pixel box, y measured from the top of the image
    return fig.add_axes([left / W, 1 - bottom / H, (right - left) / W, (bottom - top) / H], **kw)


def nudge(label, dx_px, dy_px):
    label.set_transform(label.get_transform() + ScaledTranslation(dx_px / 100, dy_px / 100, fig.dpi_scale_trans))


# ---- panel A ----
ax = px_axes(180, 15, 2306, 758)
starts = np.concatenate([[0], np.cumsum(scaffold_len)[:-1]])
ends = np.cumsum(scaffold_len)
for i, (s, e) in enumerate(zip(starts, ends)):
    if i % 2 == 1:
        ax.axvspan(s, e, color=BAND, lw=0, zorder=0)
    col = GREEN if i % 2 == 0 else ORANGE
    ax.fill_between(bodies_x[i], 0, bodies_y[i], color=col, lw=2, zorder=1)
    ax.vlines(np.linspace(s + 2, e - 2, len(clouds[i])), 0, clouds[i], color=col, lw=3.9, capstyle="round", zorder=1)
    sns.scatterplot(x=dots_x[i], y=dots_y[i], color=col, s=26, linewidth=0, ax=ax, legend=False, zorder=1)

for i, (s, e) in enumerate(zip(starts, ends)):
    if i == 0:
        sns.lineplot(x=smooth_039_x, y=smooth_039_y, color="black", lw=3.6, ax=ax, errorbar=None, zorder=3)
    else:
        sns.lineplot(x=[s, e], y=[smooth_start[i], smooth_end[i]], color="black", lw=3.6, ax=ax, errorbar=None, zorder=3)
ax.axhline(10, color="red", lw=3.2, zorder=4)

ax.set_xlim(0, ends[-1])
ax.set_ylim(0, 62)
ax.set_yticks(range(0, 70, 10))
ax.set_xticks((starts + ends) / 2)
ax.set_xticklabels(scaffolds, rotation=90, fontsize=25, fontweight="bold")
for lab in ax.get_xticklabels():
    nudge(lab, 3, 0)
ax.tick_params(axis="x", bottom=True, length=11, width=1.5, color="black", pad=10)
ax.tick_params(axis="y", left=True, length=11, width=1.5, color="black", labelsize=25, pad=18)
for sp in ax.spines.values():
    sp.set_color("#222222")
    sp.set_linewidth(1.5)
ax.set_xlabel("")
ax.set_ylabel("")

# ---- panel D ----
ax_d = px_axes(1676, 1180, 2130, 2263)
enrich = pd.DataFrame({"pathway": pathways, "rich": rich_factor, "q": qvalue, "genes": gene_number})
q_cmap = LinearSegmentedColormap.from_list("q", ["#FF0000", "#E8005A", "#C4008E", "#9000CC", "#0000FF"])
q_norm = Normalize(0.275, 0.786)
ax_d.set_axisbelow(True)
sns.scatterplot(data=enrich, x="rich", y="pathway", hue="q", hue_norm=q_norm, palette=q_cmap,
                size="genes", sizes=size_map, linewidth=0, legend=False, ax=ax_d, zorder=3)
ax_d.set_xlim(-0.0555, 0.1102)
ax_d.set_ylim(19.6, -0.6)
ax_d.set_xticks([-0.05, 0.0, 0.05, 0.10])
ax_d.set_xticklabels(["-0.05", "0.00", "0.05", "0.10"])
ax_d.set_xticks([-0.025, 0.025, 0.075], minor=True)
ax_d.grid(True, which="major", color="#EBEBEB", lw=1.6)
ax_d.grid(True, which="minor", axis="x", color="#EFEFEF", lw=1)
ax_d.tick_params(axis="x", which="major", bottom=True, length=4, width=1.2, color="#333333", labelsize=25, pad=7)
ax_d.tick_params(axis="x", which="minor", bottom=False)
ax_d.tick_params(axis="y", left=True, length=4, width=1.2, color="#333333", labelsize=25.4, pad=1)
for lab, dx in zip(ax_d.get_xticklabels(), (13, -6, -5, -6)):
    nudge(lab, dx, 0)
for lab in ax_d.get_yticklabels():
    nudge(lab, 0, 3)
for sp in ax_d.spines.values():
    sp.set_color("#333333")
    sp.set_linewidth(1.5)
ax_d.set_xlabel("")
ax_d.set_ylabel("")

# gene number legend, dots placed by the gene count itself
ax_g = px_axes(2150, 1530, 2220, 1690)
sns.scatterplot(x=[0] * 4, y=legend_genes, size=legend_genes, sizes=size_map, color="black",
                linewidth=0, legend=False, ax=ax_g)
ax_g.set_xlim(-1, 1)
ax_g.set_ylim(4.76, 0.4)
ax_g.yaxis.tick_right()
ax_g.set_yticks(legend_genes)
ax_g.tick_params(axis="y", length=0, labelsize=25, pad=2)
ax_g.set_xticks([])
sns.despine(ax=ax_g, left=True, bottom=True, right=True, top=True)
ax_g.patch.set_alpha(0)

# qvalue colour bar
cax = px_axes(2166, 1776, 2203, 1959)
cb = fig.colorbar(ScalarMappable(norm=q_norm, cmap=q_cmap), cax=cax)
cb.set_ticks([0.3, 0.4, 0.5, 0.6, 0.7])
cb.ax.minorticks_off()
cb.outline.set_visible(False)
cax.tick_params(axis="y", direction="in", left=True, right=True, color="white", width=1, length=5.5, labelsize=25, pad=11)
for lab in cax.get_yticklabels():
    nudge(lab, 0, -3)

# ---- overlay in pixel coordinates: venns, panel letters, free labels ----
ov = fig.add_axes([0, 0, 1, 1], facecolor="none")
ov.set_xlim(0, W)
ov.set_ylim(H, 0)
ov.axis("off")


def venn(cy, height, counts, title_y, count_y, count_xs):
    for cx, col in ((312, "red"), (665, "green")):
        ov.add_patch(Ellipse((cx, cy), 552, height, facecolor=col, alpha=0.31, edgecolor="none"))
    for cx in (312, 665):
        ov.add_patch(Ellipse((cx, cy), 552, height, facecolor="none", edgecolor="black", lw=1.2))
    for n, x in zip(counts, count_xs):
        ov.text(x, count_y, str(n), fontsize=24, fontweight="normal", ha="center", va="center", color="black")
    ov.text(294, title_y, venn_titles[0], fontsize=31, fontweight="bold", ha="center", va="center")
    ov.text(698, title_y, venn_titles[1], fontsize=31, fontweight="bold", ha="center", va="center")


venn(1433, 552, venn_b_counts, 1123, 1429, (260, 489, 733))
venn(2066, 560, venn_c_counts, 1771, 2071, (250, 487, 723))

for letter, x, y in (("A", 5, 35), ("B", 7, 1115), ("C", 7, 1764), ("D", 948, 1115)):
    ov.text(x, y, letter, fontsize=36, fontweight="bold", family="Liberation Sans", ha="left", va="center", color="black")

ov.text(46, 426, "G\u2019 value", fontsize=31, fontweight="bold", rotation=90, ha="center", va="center")
ov.text(960, 1709, "Pathway", fontsize=31, fontweight="bold", rotation=90, ha="center", va="center")
ov.text(1878, 1123, "Top 20 of KEGG Enrichment", fontsize=31.5, fontweight="bold", ha="center", va="center")
ov.text(1928, 2333, "Rich Factor", fontsize=25, fontweight="bold", ha="center", va="center")
ov.text(2134, 1501, "Gene Number", fontsize=25, fontweight="bold", ha="left", va="center")
ov.text(2134, 1752, "qvalue", fontsize=25, fontweight="bold", ha="left", va="center")

# red highlight box round the two top scaffolds
ov.add_patch(Rectangle((2209, 10), 66, 1041, fill=False, edgecolor="red", lw=2.6, zorder=10))

fig.savefig("out.png", dpi=100, facecolor="white")
